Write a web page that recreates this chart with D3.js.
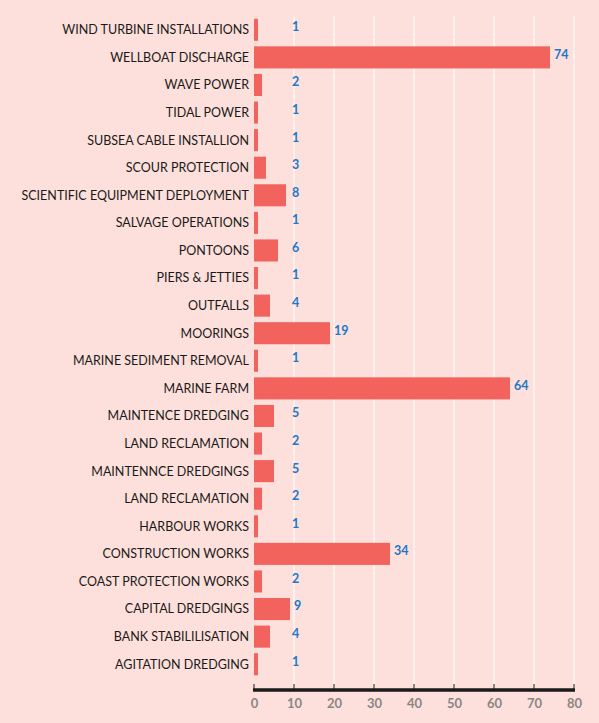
<!DOCTYPE html>
<html>
<head>
<meta charset="utf-8">
<script src="https://cdn.jsdelivr.net/npm/d3@7"></script>
<style>
body { margin: 0; background: #fde0db; }
svg { display: block; font-family: Lato, "Open Sans", sans-serif; }
</style>
</head>
<body>
<svg></svg>
<script>
let categories = ["WIND TURBINE INSTALLATIONS", "WELLBOAT DISCHARGE", "WAVE POWER", "TIDAL POWER",
    "SUBSEA CABLE INSTALLION", "SCOUR PROTECTION", "SCIENTIFIC EQUIPMENT DEPLOYMENT", "SALVAGE OPERATIONS",
    "PONTOONS", "PIERS & JETTIES", "OUTFALLS", "MOORINGS", "MARINE SEDIMENT REMOVAL", "MARINE FARM",
    "MAINTENCE DREDGING", "LAND RECLAMATION", "MAINTENNCE DREDGINGS", "LAND RECLAMATION ",
    "HARBOUR WORKS", "CONSTRUCTION WORKS", "COAST PROTECTION WORKS", "CAPITAL DREDGINGS",
    "BANK STABILILISATION", "AGITATION DREDGING"]
let values = [1, 74, 2, 1, 1, 3, 8, 1, 6, 1, 4, 19, 1, 64, 5, 2, 5, 2, 1, 34, 2, 9, 4, 1]
let ticks = [0, 10, 20, 30, 40, 50, 60, 70, 80]

let width = 599
let height = 723
let padLeft = 254
let padRight = 574
let padTop = 16
let axisY = 690

let svg = d3.select('svg').attr('width', width).attr('height', height)

let xScale = d3.scaleLinear().domain([0, 80]).range([padLeft, padRight])
let yScale = d3.scaleBand().domain(categories).range([padTop, 678]).paddingInner(0.2).paddingOuter(0.1)

// gridlines
svg.append('g').selectAll('line')
    .data(ticks.slice(1))
    .enter().append('line')
    .attr('x1', d => xScale(d)).attr('x2', d => xScale(d))
    .attr('y1', padTop).attr('y2', axisY)
    .attr('stroke', '#ffffff').attr('stroke-width', 1)

// bars
svg.append('g').selectAll('rect')
    .data(values)
    .enter().append('rect')
    .attr('x', xScale(0))
    .attr('y', (d, i) => yScale(categories[i]))
    .attr('width', d => xScale(d) - xScale(0))
    .attr('height', yScale.bandwidth())
    .attr('fill', '#f2635d')

// category labels
svg.append('g').selectAll('text')
    .data(categories)
    .enter().append('text')
    .attr('x', padLeft - 5)
    .attr('y', d => yScale(d) + yScale.bandwidth() / 2)
    .attr('dy', '0.35em')
    .attr('text-anchor', 'end')
    .attr('font-size', 12.5)
    .attr('fill', '#1a1a1a')
    .text(d => d.trim())

// value labels
svg.append('g').selectAll('text')
    .data(values)
    .enter().append('text')
    .attr('x', d => Math.max(xScale(d) + 4, 292))
    .attr('y', (d, i) => yScale(categories[i]) + yScale.bandwidth() / 2 - 3)
    .attr('dy', '0.35em')
    .attr('font-size', 12.5)
    .attr('font-weight', 'bold')
    .attr('fill', '#1e78c8')
    .text(d => d)

// x axis
let xAxis = d3.axisBottom(xScale).tickValues(ticks).tickSize(0).tickPadding(9)
let gx = svg.append('g')
    .attr('transform', `translate(0, ${axisY})`)
    .call(xAxis)
gx.select('.domain').remove()
gx.selectAll('text').attr('font-size', 13).attr('font-weight', 'bold').attr('fill', '#8a8585')
    .attr('font-family', 'Lato, sans-serif')
gx.append('line').attr('x1', padLeft - 1).attr('x2', padRight + 1).attr('y1', 0).attr('y2', 0)
    .attr('stroke', '#1a1a1a').attr('stroke-width', 3.5)
gx.selectAll('.tk').data(ticks).enter().append('line')
    .attr('x1', d => xScale(d)).attr('x2', d => xScale(d))
    .attr('y1', 0).attr('y2', -6)
    .attr('stroke', '#1a1a1a').attr('stroke-width', 1)
</script>
</body>
</html>
